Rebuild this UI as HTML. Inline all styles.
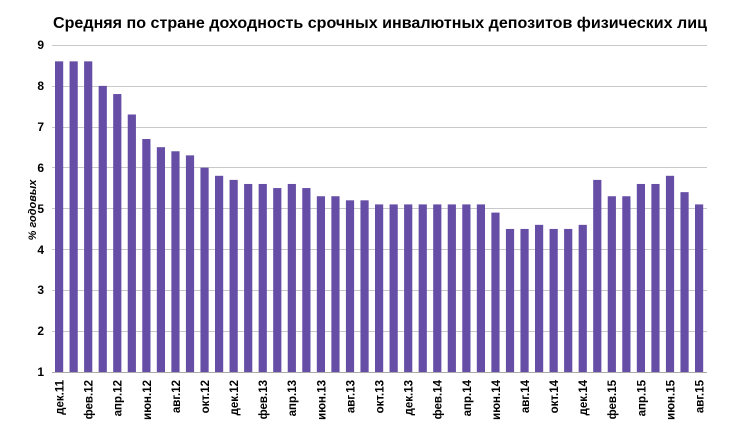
<!DOCTYPE html>
<html><head><meta charset="utf-8"><style>body{margin:0;background:#fff}svg{display:block}</style></head>
<body>
<svg width="756" height="447" xmlns="http://www.w3.org/2000/svg" font-family="Liberation Sans, Arial, sans-serif">
<text x="53" y="28" font-size="16" font-weight="bold" textLength="654" lengthAdjust="spacingAndGlyphs">Средняя по стране доходность срочных инвалютных депозитов физических лиц</text>
<g stroke="#c8c8c8" stroke-width="1">
<line x1="52" x2="707" y1="45.5" y2="45.5"/>
<line x1="52" x2="707" y1="86.5" y2="86.5"/>
<line x1="52" x2="707" y1="127.5" y2="127.5"/>
<line x1="52" x2="707" y1="167.5" y2="167.5"/>
<line x1="52" x2="707" y1="208.5" y2="208.5"/>
<line x1="52" x2="707" y1="249.5" y2="249.5"/>
<line x1="52" x2="707" y1="290.5" y2="290.5"/>
<line x1="52" x2="707" y1="331.5" y2="331.5"/>
</g>
<g fill="#664ea6">
<rect x="55" y="61.35" width="8.2" height="310.65"/>
<rect x="69.55" y="61.35" width="8.2" height="310.65"/>
<rect x="84.09" y="61.35" width="8.2" height="310.65"/>
<rect x="98.64" y="85.88" width="8.2" height="286.12"/>
<rect x="113.18" y="94.05" width="8.2" height="277.95"/>
<rect x="127.73" y="114.49" width="8.2" height="257.51"/>
<rect x="142.27" y="139.01" width="8.2" height="232.99"/>
<rect x="156.82" y="147.19" width="8.2" height="224.81"/>
<rect x="171.36" y="151.27" width="8.2" height="220.73"/>
<rect x="185.91" y="155.36" width="8.2" height="216.64"/>
<rect x="200.45" y="167.63" width="8.2" height="204.37"/>
<rect x="215" y="175.8" width="8.2" height="196.2"/>
<rect x="229.55" y="179.89" width="8.2" height="192.11"/>
<rect x="244.09" y="183.97" width="8.2" height="188.03"/>
<rect x="258.64" y="183.97" width="8.2" height="188.03"/>
<rect x="273.18" y="188.06" width="8.2" height="183.94"/>
<rect x="287.73" y="183.97" width="8.2" height="188.03"/>
<rect x="302.27" y="188.06" width="8.2" height="183.94"/>
<rect x="316.82" y="196.24" width="8.2" height="175.76"/>
<rect x="331.36" y="196.24" width="8.2" height="175.76"/>
<rect x="345.91" y="200.32" width="8.2" height="171.68"/>
<rect x="360.45" y="200.32" width="8.2" height="171.68"/>
<rect x="375" y="204.41" width="8.2" height="167.59"/>
<rect x="389.55" y="204.41" width="8.2" height="167.59"/>
<rect x="404.09" y="204.41" width="8.2" height="167.59"/>
<rect x="418.64" y="204.41" width="8.2" height="167.59"/>
<rect x="433.18" y="204.41" width="8.2" height="167.59"/>
<rect x="447.73" y="204.41" width="8.2" height="167.59"/>
<rect x="462.27" y="204.41" width="8.2" height="167.59"/>
<rect x="476.82" y="204.41" width="8.2" height="167.59"/>
<rect x="491.36" y="212.59" width="8.2" height="159.41"/>
<rect x="505.91" y="228.94" width="8.2" height="143.06"/>
<rect x="520.45" y="228.94" width="8.2" height="143.06"/>
<rect x="535" y="224.85" width="8.2" height="147.15"/>
<rect x="549.55" y="228.94" width="8.2" height="143.06"/>
<rect x="564.09" y="228.94" width="8.2" height="143.06"/>
<rect x="578.64" y="224.85" width="8.2" height="147.15"/>
<rect x="593.18" y="179.89" width="8.2" height="192.11"/>
<rect x="607.73" y="196.24" width="8.2" height="175.76"/>
<rect x="622.27" y="196.24" width="8.2" height="175.76"/>
<rect x="636.82" y="183.97" width="8.2" height="188.03"/>
<rect x="651.36" y="183.97" width="8.2" height="188.03"/>
<rect x="665.91" y="175.8" width="8.2" height="196.2"/>
<rect x="680.45" y="192.15" width="8.2" height="179.85"/>
<rect x="695" y="204.41" width="8.2" height="167.59"/>
</g>
<line x1="52" x2="707" y1="372.5" y2="372.5" stroke="#aaa" stroke-width="1"/>
<g font-size="12" font-weight="bold" text-anchor="end">
<text x="44" y="376">1</text>
<text x="44" y="335">2</text>
<text x="44" y="294">3</text>
<text x="44" y="254">4</text>
<text x="44" y="213">5</text>
<text x="44" y="172">6</text>
<text x="44" y="131">7</text>
<text x="44" y="90">8</text>
<text x="44" y="49">9</text>
</g>
<g font-size="11.5" font-weight="bold" text-anchor="end">
<text transform="translate(63.5,380) rotate(-90)">дек.11</text>
<text transform="translate(92.6,380) rotate(-90)">фев.12</text>
<text transform="translate(121.7,380) rotate(-90)">апр.12</text>
<text transform="translate(150.8,380) rotate(-90)">июн.12</text>
<text transform="translate(179.9,380) rotate(-90)">авг.12</text>
<text transform="translate(209,380) rotate(-90)">окт.12</text>
<text transform="translate(238,380) rotate(-90)">дек.12</text>
<text transform="translate(267.1,380) rotate(-90)">фев.13</text>
<text transform="translate(296.2,380) rotate(-90)">апр.13</text>
<text transform="translate(325.3,380) rotate(-90)">июн.13</text>
<text transform="translate(354.4,380) rotate(-90)">авг.13</text>
<text transform="translate(383.5,380) rotate(-90)">окт.13</text>
<text transform="translate(412.6,380) rotate(-90)">дек.13</text>
<text transform="translate(441.7,380) rotate(-90)">фев.14</text>
<text transform="translate(470.8,380) rotate(-90)">апр.14</text>
<text transform="translate(499.9,380) rotate(-90)">июн.14</text>
<text transform="translate(529,380) rotate(-90)">авг.14</text>
<text transform="translate(558,380) rotate(-90)">окт.14</text>
<text transform="translate(587.1,380) rotate(-90)">дек.14</text>
<text transform="translate(616.2,380) rotate(-90)">фев.15</text>
<text transform="translate(645.3,380) rotate(-90)">апр.15</text>
<text transform="translate(674.4,380) rotate(-90)">июн.15</text>
<text transform="translate(703.5,380) rotate(-90)">авг.15</text>
</g>
<text transform="translate(36,210) rotate(-90)" font-size="11" font-weight="bold" font-style="italic" text-anchor="middle">% годовых</text>
</svg>
</body></html>
